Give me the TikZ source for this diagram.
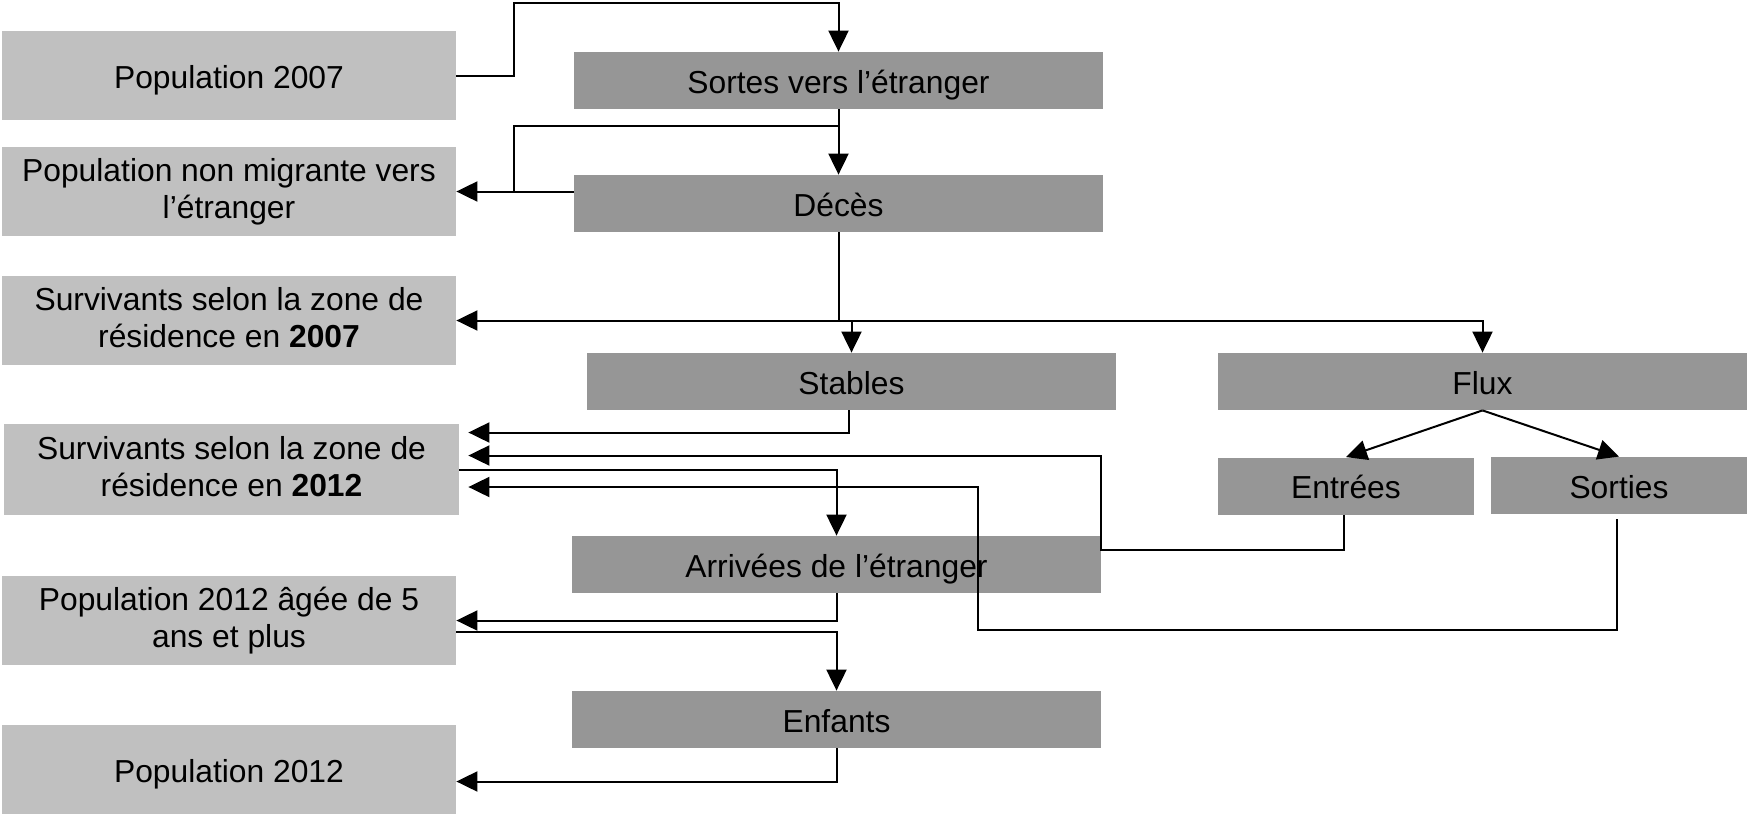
\documentclass[tikz,border=0pt]{standalone}
\usepackage{fontspec}
\setmainfont{Liberation Sans}
\usepackage{tikz}
\usetikzlibrary{arrows.meta,calc}
\definecolor{lgray}{HTML}{C0C0C0}
\definecolor{dgray}{HTML}{969696}

\begin{document}
\begin{tikzpicture}[x=0.5pt,y=-0.5pt]
\tikzset{every node/.style={inner sep=0pt, align=center, font=\fontsize{15.9}{18.5}\selectfont}}
\tikzset{execute at begin node={\rule{0pt}{16.3pt}}, execute at end node={\rule[-3.5pt]{0pt}{3.5pt}}}
\tikzset{le box/.style={fill=lgray, minimum width=227pt, minimum height=44.5pt}}
\tikzset{ri box/.style={fill=dgray, minimum width=264.5pt, minimum height=28.5pt}}
\tikzset{sm box/.style={fill=dgray, minimum width=128pt, minimum height=28.5pt}}
\tikzset{ln/.style={draw=black, line width=1pt}}
\tikzset{ar/.style={ln, -{Triangle[length=10.5pt,width=10pt]}}}
\useasboundingbox (0,0) rectangle (1747,814);

\node[le box] (P07) at (229,75.5) {Population 2007};
\node[le box] (PNM) at (229,191.5) {Population non migrante vers\\l’étranger};
\node[le box] (S07) at (229,320.5) {Survivants selon la zone de\\résidence en \textbf{2007}};
\node[le box, minimum width=227.5pt, minimum height=45.5pt] (S12) at (231.5,469.5) {Survivants selon la zone de\\résidence en \textbf{2012}};
\node[le box] (P12a) at (229,620.5) {Population 2012 âgée de 5\\ans et plus};
\node[le box] (P12) at (229,769.5) {Population 2012};

\node[ri box] (SE) at (838.5,80.5) {Sortes vers l’étranger};
\node[ri box] (DC) at (838.5,203.5) {Décès};
\node[ri box] (ST) at (851.5,381.5) {Stables};
\node[ri box] (FX) at (1482.5,381.5) {Flux};
\node[sm box] (EN) at (1346,486) {Entrées};
\node[sm box] (SO) at (1619,485.5) {Sorties};
\node[ri box] (AR) at (836.5,564.5) {Arrivées de l’étranger};
\node[ri box] (EF) at (836.5,719.5) {Enfants};

\draw[ar] (P07.east) -| (514,3) -| (SE.north);
\draw[ar] (SE.south) -- (DC.north);
\draw[ln] ($(SE.south)+(0,17)$) -| ($(PNM.east)+(58,0)$);
\draw[ar] (DC.west |- PNM.east) -- (PNM.east);
\draw[ar] (DC.south) -- (DC.south |- S07.east) -- (S07.east);
\draw[ar] (DC.south |- S07.east) -| (FX.north);
\draw[ar] (ST.north |- S07.east) -- (ST.north);
\draw[ar] (FX.south) -- (EN.north);
\draw[ar] (FX.south) -- (SO.north);
\draw[ar] ($(ST.south)+(-3,0)$) |- ($(S12.east)+(9,-37)$);
\draw[ar] ($(EN.south)+(-2,0)$) |- (1101,550) |- ($(S12.east)+(9,-14)$);
\draw[ar] (S12.east) -| (AR.north);
\draw[ar] ($(SO.south)+(-2,5)$) |- (978,630) |- ($(S12.east)+(9,17.5)$);
\draw[ar] (AR.south) |- (P12a.east);
\draw[ar] ($(P12a.east)+(0,11)$) -| (EF.north);
\draw[ar] (EF.south) |- ($(P12.east)+(0,12)$);
\end{tikzpicture}
\end{document}
